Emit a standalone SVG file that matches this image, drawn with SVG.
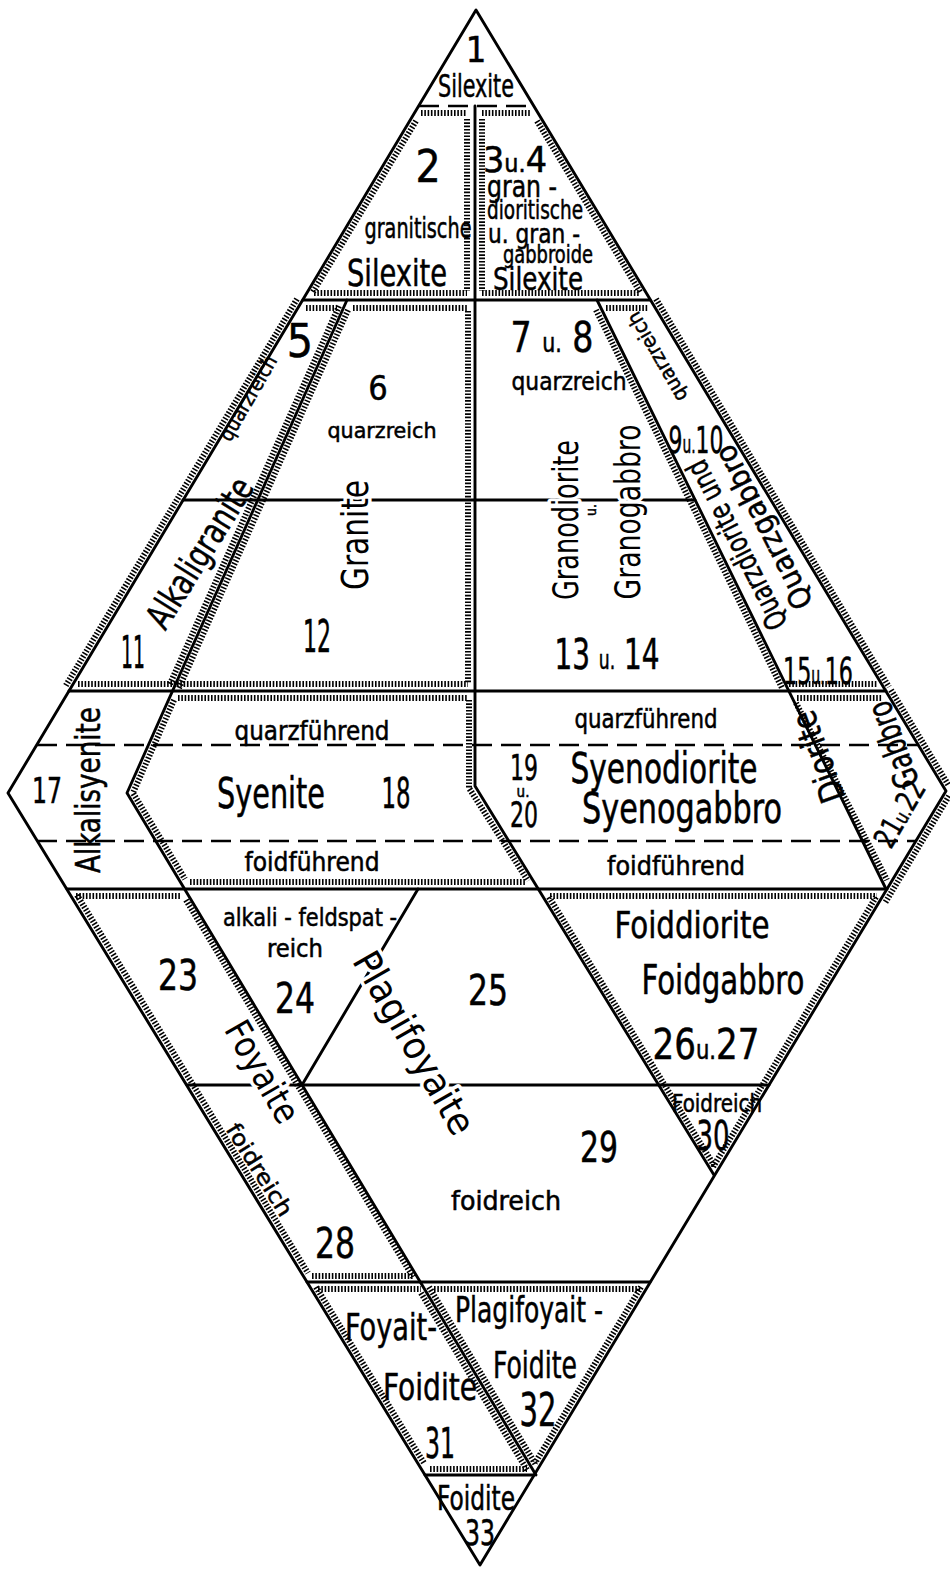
<svg xmlns="http://www.w3.org/2000/svg" width="950" height="1569" viewBox="0 0 950 1569">
<style>
.ln{stroke:#000;stroke-width:2.9;fill:none;stroke-linecap:round;stroke-linejoin:round}
.ds{stroke:#000;stroke-width:2.6;fill:none;stroke-dasharray:20 9}
.ht{stroke:#000;stroke-width:6;fill:none;stroke-dasharray:1.6 1.7}
text{font-family:"DejaVu Sans Condensed","DejaVu Sans",sans-serif;fill:#000;stroke:#000;stroke-width:0.5;text-anchor:middle}
.st{text-anchor:start}
.halo{stroke:#fff;stroke-width:7;paint-order:stroke;stroke-linejoin:round}
</style>
<rect width="950" height="1569" fill="#fff"/>
<g id="connectors">
<path class="ln" d="M476,10 L8,793 L480,1565 L946,791 Z"/>
<path class="ln" d="M303,300 H650 M183,500 H695 M69,691 H886 M67,889 H887 M187,1085 H769 M307,1282 H650 M425,1475 H534"/>
<path class="ln" d="M475,106 V786 L714,1175"/>
<path class="ln" d="M347,300 L127,793 L536,1475"/>
<path class="ln" d="M597,300 L886,889"/>
<path class="ln" d="M418,889 L302,1085"/>
<path class="ds" d="M419,106 H534 M37,745 H918 M37,841 H916"/>
</g>
<g id="hatching">
<path class="ht" d="M421,113 H467 M416,121 L313,292 M467,119 V291 M314,293 H467"/>
<path class="ht" d="M482,113 H531 M482,119 V291 M537,121 L640,292 M482,293 H640"/>
<path class="ht" d="M306,308 H337 M297,299 L65,687 M339,306 L170,684 M348,310 L179,688"/>
<path class="ht" d="M353,308 H468 M468,311 V684 M78,684 H468"/>
<path class="ht" d="M596,310 L782,688"/>
<path class="ht" d="M606,308 H648 M656,299 L889,687 M789,684 H878"/>
<path class="ht" d="M178,698 H468 M469,700 V788 L528,881 M174,700 L133,793 L185,879 M190,882 H525"/>
<path class="ht" d="M797,698 H882 M796,703 L887,880 M891,690 L949,786 M949,796 L885,903"/>
<path class="ht" d="M550,896 H877 M549,897 L715,1167 M876,897 L713,1167"/>
<path class="ht" d="M76,896 H180 M77,895 L308,1273 M186,900 L413,1277 M312,1276 H414"/>
<path class="ht" d="M318,1289 H421 M316,1287 L424,1463 M421,1293 L527,1470 M430,1469 H527"/>
<path class="ht" d="M434,1289 H641 M429,1287 L536,1465 M641,1287 L535,1463"/>
</g>
<g id="n1"><text x="476" y="62" font-size="36">1</text><text x="476" y="97" font-size="32" textLength="76" lengthAdjust="spacingAndGlyphs">Silexite</text></g>
<g id="n2"><text x="428" y="182" font-size="44">2</text>
<text x="418" y="238" font-size="28" textLength="107" lengthAdjust="spacingAndGlyphs">granitische</text>
<text x="397" y="286" font-size="38" textLength="100" lengthAdjust="spacingAndGlyphs">Silexite</text></g>
<g id="n3-4">
<text class="st" x="483" y="172" font-size="36" textLength="64" lengthAdjust="spacingAndGlyphs">3<tspan font-size="24">u.</tspan>4</text>
<text class="st" x="487" y="197" font-size="30" textLength="70" lengthAdjust="spacingAndGlyphs">gran -</text>
<text class="st" x="487" y="219" font-size="26" textLength="96" lengthAdjust="spacingAndGlyphs">dioritische</text>
<text class="st" x="488" y="243" font-size="26" textLength="92" lengthAdjust="spacingAndGlyphs">u. gran -</text>
<text class="st" x="503" y="263" font-size="24" textLength="90" lengthAdjust="spacingAndGlyphs">gabbroide</text>
<text class="st" x="493" y="290" font-size="32" textLength="90" lengthAdjust="spacingAndGlyphs">Silexite</text></g>
<g id="n5"><text x="300" y="357" font-size="46">5</text>
<text transform="translate(248,398) rotate(-60)" y="7" font-size="20" textLength="95" lengthAdjust="spacingAndGlyphs">quarzreich</text></g>
<g id="n6"><text x="378" y="400" font-size="34">6</text>
<text x="382" y="438" font-size="22" textLength="109" lengthAdjust="spacingAndGlyphs">quarzreich</text></g>
<g id="n12"><text class="halo" transform="translate(355,535) rotate(-90)" y="13" font-size="38" textLength="110" lengthAdjust="spacingAndGlyphs">Granite</text>
<text x="317" y="652" font-size="44" textLength="28" lengthAdjust="spacingAndGlyphs">12</text></g>
<g id="n11"><text transform="translate(200,553) rotate(-58)" y="12" font-size="36" textLength="170" lengthAdjust="spacingAndGlyphs">Alkaligranite</text>
<text x="133" y="668" font-size="44" textLength="24" lengthAdjust="spacingAndGlyphs">11</text></g>
<g id="n7-8"><text x="552" y="352" font-size="42" textLength="83" lengthAdjust="spacingAndGlyphs">7 <tspan font-size="26">u.</tspan> 8</text>
<text x="569" y="390" font-size="24" textLength="115" lengthAdjust="spacingAndGlyphs">quarzreich</text></g>
<g id="n13-14"><text class="halo" transform="translate(566,520) rotate(-90)" y="12" font-size="36" textLength="160" lengthAdjust="spacingAndGlyphs">Granodiorite</text>
<text transform="translate(591,510) rotate(-90)" y="5" font-size="14">u.</text>
<text class="halo" transform="translate(628,512) rotate(-90)" y="12" font-size="36" textLength="175" lengthAdjust="spacingAndGlyphs">Granogabbro</text>
<text x="607" y="669" font-size="42" textLength="105" lengthAdjust="spacingAndGlyphs">13 <tspan font-size="26">u.</tspan> 14</text></g>
<g id="n9-10"><text transform="translate(657,357) rotate(-120)" y="7" font-size="20" textLength="100" lengthAdjust="spacingAndGlyphs">quarzreich</text>
<text x="696" y="453" font-size="38" textLength="55" lengthAdjust="spacingAndGlyphs">9<tspan font-size="24">u.</tspan>10</text>
<text transform="translate(737,545) rotate(-117)" y="10" font-size="30" textLength="186" lengthAdjust="spacingAndGlyphs">Quarzdiorite und</text>
<text transform="translate(764,527) rotate(-117)" y="10" font-size="30" textLength="180" lengthAdjust="spacingAndGlyphs">Quarzgabbro</text></g>
<g id="n15-16"><text x="818" y="684" font-size="38" textLength="70" lengthAdjust="spacingAndGlyphs">15<tspan font-size="24">u.</tspan>16</text></g>
<g id="n17"><text x="47" y="803" font-size="36" textLength="30" lengthAdjust="spacingAndGlyphs">17</text>
<text transform="translate(88,790) rotate(-90)" y="12" font-size="34" textLength="166" lengthAdjust="spacingAndGlyphs">Alkalisyenite</text></g>
<g id="n18"><text x="312" y="740" font-size="26" textLength="155" lengthAdjust="spacingAndGlyphs">quarzführend</text>
<text x="271" y="808" font-size="42" textLength="108" lengthAdjust="spacingAndGlyphs">Syenite</text>
<text x="396" y="808" font-size="42" textLength="29" lengthAdjust="spacingAndGlyphs">18</text>
<text x="312" y="871" font-size="26" textLength="135" lengthAdjust="spacingAndGlyphs">foidführend</text></g>
<g id="n19-20"><text x="646" y="728" font-size="26" textLength="143" lengthAdjust="spacingAndGlyphs">quarzführend</text>
<text x="524" y="780" font-size="36" textLength="28" lengthAdjust="spacingAndGlyphs">19</text><text x="523" y="797" font-size="15">u.</text><text x="524" y="827" font-size="36" textLength="28" lengthAdjust="spacingAndGlyphs">20</text>
<text x="664" y="783" font-size="42" textLength="187" lengthAdjust="spacingAndGlyphs">Syenodiorite</text>
<text x="682" y="823" font-size="42" textLength="200" lengthAdjust="spacingAndGlyphs">Syenogabbro</text>
<text x="676" y="875" font-size="26" textLength="138" lengthAdjust="spacingAndGlyphs">foidführend</text></g>
<g id="n21-22"><text transform="translate(818,757) rotate(-110)" y="12" font-size="34" textLength="95" lengthAdjust="spacingAndGlyphs">Diorite</text>
<text transform="translate(893,745) rotate(-110)" y="12" font-size="34" textLength="90" lengthAdjust="spacingAndGlyphs">Gabbro</text>
<text transform="translate(900,814) rotate(-60)" y="10" font-size="30" textLength="72" lengthAdjust="spacingAndGlyphs">21<tspan font-size="20">u.</tspan>22</text></g>
<g id="n23"><text x="178" y="990" font-size="42" textLength="40" lengthAdjust="spacingAndGlyphs">23</text></g>
<g id="n24"><text x="310" y="926" font-size="24" textLength="174" lengthAdjust="spacingAndGlyphs">alkali - feldspat -</text>
<text x="295" y="957" font-size="24" textLength="56" lengthAdjust="spacingAndGlyphs">reich</text>
<text x="295" y="1013" font-size="42" textLength="40" lengthAdjust="spacingAndGlyphs">24</text>
<text class="halo" transform="translate(262,1072) rotate(60)" y="12" font-size="36" textLength="112" lengthAdjust="spacingAndGlyphs">Foyaite</text></g>
<g id="n25"><text x="488" y="1005" font-size="42" textLength="40" lengthAdjust="spacingAndGlyphs">25</text>
<text class="halo" transform="translate(414,1043) rotate(60)" y="13" font-size="38" textLength="205" lengthAdjust="spacingAndGlyphs">Plagifoyaite</text></g>
<g id="n26-27"><text x="692" y="938" font-size="38" textLength="155" lengthAdjust="spacingAndGlyphs">Foiddiorite</text>
<text x="723" y="994" font-size="40" textLength="163" lengthAdjust="spacingAndGlyphs">Foidgabbro</text>
<text x="706" y="1059" font-size="42" textLength="107" lengthAdjust="spacingAndGlyphs">26<tspan font-size="26">u.</tspan>27</text></g>
<g id="n30"><text class="st" x="672" y="1112" font-size="24" textLength="90" lengthAdjust="spacingAndGlyphs">Foidreich</text>
<text x="713" y="1150" font-size="40" textLength="33" lengthAdjust="spacingAndGlyphs">30</text></g>
<g id="n29"><text x="599" y="1162" font-size="42" textLength="38" lengthAdjust="spacingAndGlyphs">29</text>
<text x="506" y="1210" font-size="26" textLength="110" lengthAdjust="spacingAndGlyphs">foidreich</text></g>
<g id="n28"><text transform="translate(259,1170) rotate(58)" y="7" font-size="22" textLength="105" lengthAdjust="spacingAndGlyphs">foidreich</text>
<text x="335" y="1258" font-size="42" textLength="40" lengthAdjust="spacingAndGlyphs">28</text></g>
<g id="n31"><text x="391" y="1340" font-size="38" textLength="92" lengthAdjust="spacingAndGlyphs">Foyait-</text>
<text x="430" y="1400" font-size="38" textLength="94" lengthAdjust="spacingAndGlyphs">Foidite</text>
<text x="440" y="1458" font-size="42" textLength="30" lengthAdjust="spacingAndGlyphs">31</text></g>
<g id="n32"><text x="529" y="1322" font-size="36" textLength="148" lengthAdjust="spacingAndGlyphs">Plagifoyait -</text>
<text x="535" y="1378" font-size="38" textLength="84" lengthAdjust="spacingAndGlyphs">Foidite</text>
<text x="538" y="1426" font-size="46" textLength="37" lengthAdjust="spacingAndGlyphs">32</text></g>
<g id="n33"><text x="476" y="1510" font-size="34" textLength="78" lengthAdjust="spacingAndGlyphs">Foidite</text>
<text x="480" y="1545" font-size="36" textLength="30" lengthAdjust="spacingAndGlyphs">33</text></g>
</svg>
